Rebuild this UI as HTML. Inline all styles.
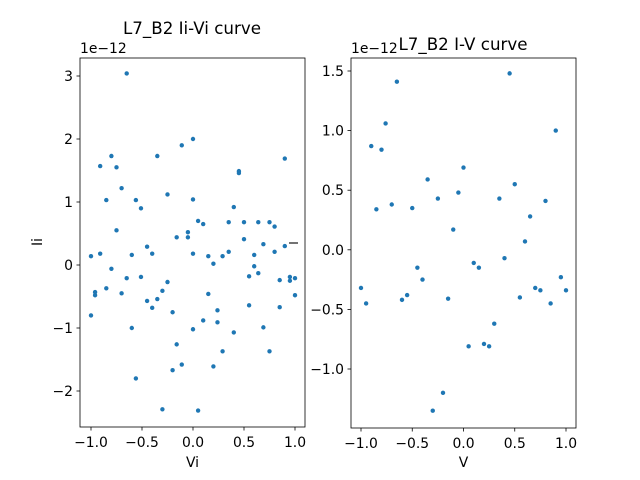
<!DOCTYPE html>
<html><head><meta charset="utf-8"><style>
body{margin:0;background:#fff}
svg{display:block;font-family:"DejaVu Sans","Liberation Sans",sans-serif}
</style></head><body>
<svg id="chart" width="640" height="480" xmlns="http://www.w3.org/2000/svg"></svg>
<script>
const leftX=[-0.65,0,-0.11,-0.8,-0.35,0.9,-0.91,-0.75,0.45,0.45,-0.7,-0.25,-0.85,-0.56,0,-0.51,0.4,0.05,0.1,0.35,0.5,0.64,0.75,0.8,-0.75,-0.05,-0.16,-0.05,0.5,0.69,0.9,-0.45,-1,-0.91,-0.6,-0.4,0,0.15,0.29,0.35,0.6,0.8,0.2,0.6,-0.8,0.64,-0.65,-0.51,0.55,0.95,1,0.95,0.85,-0.25,-0.85,-0.96,-0.96,-0.7,0.15,-0.3,-0.35,-0.45,1,-0.4,-0.2,0.24,0.55,0.85,-1,0.1,0.24,-0.6,0,0.4,0.69,-0.16,0.29,0.75,-0.11,-0.2,0.2,-0.56,-0.3,0.05];
const leftY=[3.04,2.0,1.9,1.73,1.73,1.69,1.57,1.55,1.49,1.46,1.22,1.12,1.03,1.03,1.04,0.9,0.92,0.7,0.65,0.68,0.68,0.68,0.68,0.61,0.55,0.52,0.44,0.44,0.41,0.33,0.3,0.29,0.14,0.18,0.16,0.18,0.18,0.14,0.14,0.21,0.16,0.21,0.02,-0.02,-0.06,-0.13,-0.21,-0.19,-0.18,-0.19,-0.21,-0.25,-0.24,-0.27,-0.37,-0.43,-0.48,-0.45,-0.46,-0.41,-0.54,-0.57,-0.48,-0.68,-0.75,-0.72,-0.64,-0.67,-0.8,-0.88,-0.91,-1.0,-1.02,-1.07,-0.99,-1.26,-1.37,-1.37,-1.58,-1.67,-1.61,-1.8,-2.29,-2.31];
const rightX=[-1,-0.95,-0.9,-0.85,-0.8,-0.76,-0.7,-0.65,-0.6,-0.55,-0.5,-0.45,-0.4,-0.35,-0.3,-0.25,-0.2,-0.15,-0.1,-0.05,0,0.05,0.1,0.15,0.2,0.25,0.3,0.35,0.4,0.45,0.5,0.55,0.6,0.65,0.7,0.75,0.8,0.85,0.9,0.95,1];
const rightY=[-0.32,-0.45,0.87,0.34,0.84,1.06,0.38,1.41,-0.42,-0.38,0.35,-0.15,-0.25,0.59,-1.35,0.43,-1.2,-0.41,0.17,0.48,0.69,-0.81,-0.11,-0.15,-0.79,-0.81,-0.62,0.43,-0.07,1.48,0.55,-0.4,0.07,0.28,-0.32,-0.34,0.41,-0.45,1.0,-0.23,-0.34];
const xTicks=[-1,-0.5,0,0.5,1];
const xTickLabels=["−1.0","−0.5","0.0","0.5","1.0"];
const leftYTicks=[3,2,1,0,-1,-2];
const leftYTickLabels=["3","2","1","0","−1","−2"];
const rightYTicks=[1.5,1,0.5,0,-0.5,-1];
const rightYTickLabels=["1.5","1.0","0.5","0.0","−0.5","−1.0"];

const svg=document.getElementById('chart');
const NS='http://www.w3.org/2000/svg';
function mk(tag,attrs,parent){const e=document.createElementNS(NS,tag);for(const k in attrs)e.setAttribute(k,attrs[k]);(parent||svg).appendChild(e);return e;}

function panel(p){
  const g=mk('g',{});
  
  
  const sx=v=>p.x0+(v-(-1))*(p.x1-p.x0)/2;
  const sy=v=>p.yA+(v-p.vA)*(p.yB-p.yA)/(p.vB-p.vA);
  xTicks.forEach((t,i)=>{
    const X=sx(t);
    const tk=mk('line',{x1:X,x2:X,y1:p.bottom,y2:p.bottom+3.5,stroke:'#000','stroke-width':0.8},g);
    
    
    const tx=mk('text',{x:X,y:p.bottom+20,'font-size':13.9,'text-anchor':'middle'},g);
    tx.textContent=xTickLabels[i];
    
    
  });
  p.yTicks.forEach((t,i)=>{
    const Y=sy(t);
    const tk=mk('line',{x1:p.left-3.5,x2:p.left,y1:Y,y2:Y,stroke:'#000','stroke-width':0.8},g);
    
    
    const tx=mk('text',{x:p.left-7,y:Y+5,'font-size':13.9,'text-anchor':'end'},g);
    tx.textContent=p.yLabels[i];
    
    
  });
  p.xs.forEach((v,i)=>{
    const c=mk('circle',{cx:sx(v),cy:sy(p.ys[i]),r:2.2,fill:'#1f77b4'},g);
    
    
  });
  const fr=mk('rect',{x:p.left,y:58,width:p.right-p.left,height:p.bottom-58,fill:'none',stroke:'#000','stroke-width':0.8},g);
  
  
  const off=mk('text',{x:p.left,y:53,'font-size':13.9},g);
  off.textContent='1e−12';
  
  
  const ti=mk('text',{x:p.tx,y:p.ty,'font-size':16.7,'text-anchor':'middle'},g);
  ti.textContent=p.title;
  
  
  const xl=mk('text',{x:(p.left+p.right)/2,y:467,'font-size':13.9,'text-anchor':'middle'},g);
  xl.textContent=p.xlabel;
  
  
  return {g,sx,sy};
}
const L=panel({name:'left-panel',left:80,right:305,bottom:427,x0:91,x1:295,yA:76,vA:3,yB:391,vB:-2,xs:leftX,ys:leftY,yTicks:leftYTicks,yLabels:leftYTickLabels,title:'L7_B2 Ii-Vi curve',tx:192,ty:34,xlabel:'Vi'});
const R=panel({name:'right-panel',left:351,right:576,bottom:428,x0:361,x1:566,yA:71,vA:1.5,yB:369,vB:-1,xs:rightX,ys:rightY,yTicks:rightYTicks,yLabels:rightYTickLabels,title:'L7_B2 I-V curve',tx:463,ty:50,xlabel:'V'});
const dash=mk('line',{x1:289,x2:298,y1:243,y2:243,stroke:'#444','stroke-width':1.5});


const yl=mk('text',{x:0,y:0,'font-size':13.9,'text-anchor':'middle',transform:'translate(42,242) rotate(-90)'});
yl.textContent='Ii';


</script>
</body></html>
